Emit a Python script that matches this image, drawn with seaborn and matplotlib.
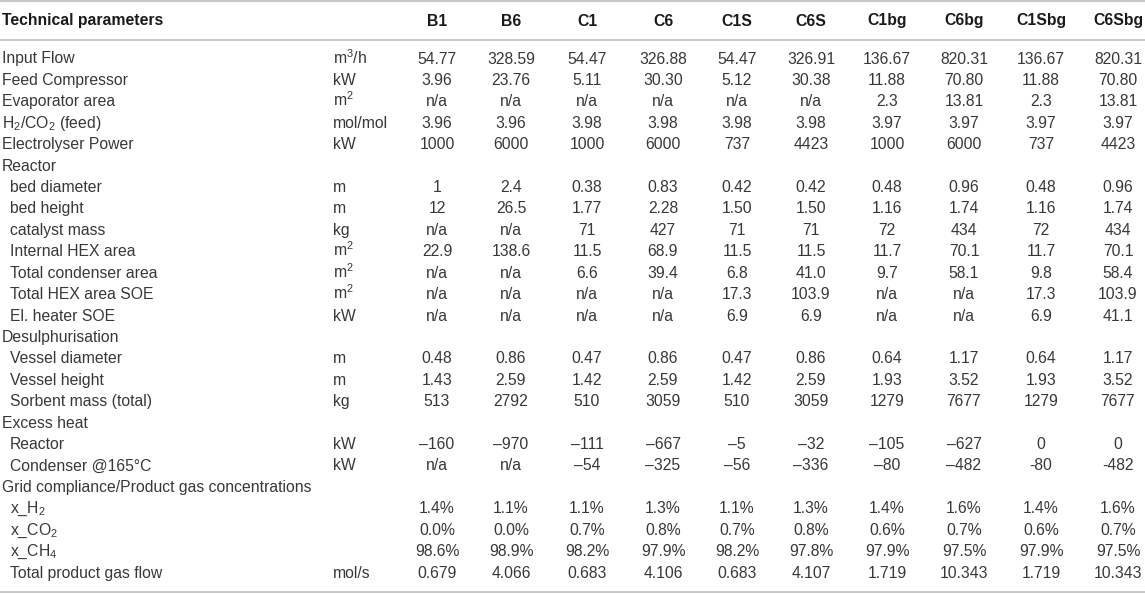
import matplotlib

matplotlib.use('Agg')
import matplotlib.pyplot as plt
import seaborn as sns
import pandas as pd

# --- Дані таблиці ---
columns = ['B1', 'B6', 'C1', 'C6', 'C1S', 'C6S', 'C1bg', 'C6bg', 'C1Sbg', 'C6Sbg']

row_names = [
    'Input Flow', 'Feed Compressor', 'Evaporator area', r'H$_2$/CO$_2$ (feed)',
    'Electrolyser Power', 'Reactor', 'bed diameter', 'bed height', 'catalyst mass',
    'Internal HEX area', 'Total condenser area', 'Total HEX area SOE', 'El. heater SOE',
    'Desulphurisation', 'Vessel diameter', 'Vessel height', 'Sorbent mass (total)',
    'Excess heat', 'Reactor', 'Condenser @165°C',
    'Grid compliance/Product gas concentrations',
    r'x_H$_2$', r'x_CO$_2$', r'x_CH$_4$', 'Total product gas flow',
]
row_indent = [0, 0, 0, 0, 0, 0, 1, 1, 1, 1, 1, 1, 1, 0, 1, 1, 1, 0, 1, 1, 0, 1, 1, 1, 1]
units = [
    r'm$^3$/h', 'kW', r'm$^2$', 'mol/mol', 'kW', '', 'm', 'm', 'kg',
    r'm$^2$', r'm$^2$', r'm$^2$', 'kW', '', 'm', 'm', 'kg', '', 'kW', 'kW', '',
    '', '', '', 'mol/s',
]

B1 = ['54.77', '3.96', 'n/a', '3.96', '1000', '', '1', '12', 'n/a', '22.9', 'n/a', 'n/a', 'n/a',
      '', '0.48', '1.43', '513', '', '–160', 'n/a', '', '1.4%', '0.0%', '98.6%', '0.679']
B6 = ['328.59', '23.76', 'n/a', '3.96', '6000', '', '2.4', '26.5', 'n/a', '138.6', 'n/a', 'n/a', 'n/a',
      '', '0.86', '2.59', '2792', '', '–970', 'n/a', '', '1.1%', '0.0%', '98.9%', '4.066']
C1 = ['54.47', '5.11', 'n/a', '3.98', '1000', '', '0.38', '1.77', '71', '11.5', '6.6', 'n/a', 'n/a',
      '', '0.47', '1.42', '510', '', '–111', '–54', '', '1.1%', '0.7%', '98.2%', '0.683']
C6 = ['326.88', '30.30', 'n/a', '3.98', '6000', '', '0.83', '2.28', '427', '68.9', '39.4', 'n/a', 'n/a',
      '', '0.86', '2.59', '3059', '', '–667', '–325', '', '1.3%', '0.8%', '97.9%', '4.106']
C1S = ['54.47', '5.12', 'n/a', '3.98', '737', '', '0.42', '1.50', '71', '11.5', '6.8', '17.3', '6.9',
       '', '0.47', '1.42', '510', '', '–5', '–56', '', '1.1%', '0.7%', '98.2%', '0.683']
C6S = ['326.91', '30.38', 'n/a', '3.98', '4423', '', '0.42', '1.50', '71', '11.5', '41.0', '103.9', '6.9',
       '', '0.86', '2.59', '3059', '', '–32', '–336', '', '1.3%', '0.8%', '97.8%', '4.107']
C1bg = ['136.67', '11.88', '2.3', '3.97', '1000', '', '0.48', '1.16', '72', '11.7', '9.7', 'n/a', 'n/a',
        '', '0.64', '1.93', '1279', '', '–105', '–80', '', '1.4%', '0.6%', '97.9%', '1.719']
C6bg = ['820.31', '70.80', '13.81', '3.97', '6000', '', '0.96', '1.74', '434', '70.1', '58.1', 'n/a', 'n/a',
        '', '1.17', '3.52', '7677', '', '–627', '–482', '', '1.6%', '0.7%', '97.5%', '10.343']
C1Sbg = ['136.67', '11.88', '2.3', '3.97', '737', '', '0.48', '1.16', '72', '11.7', '9.8', '17.3', '6.9',
         '', '0.64', '1.93', '1279', '', '0', '-80', '', '1.4%', '0.6%', '97.9%', '1.719']
C6Sbg = ['820.31', '70.80', '13.81', '3.97', '4423', '', '0.96', '1.74', '434', '70.1', '58.4', '103.9', '41.1',
         '', '1.17', '3.52', '7677', '', '0', '-482', '', '1.6%', '0.7%', '97.5%', '10.343']

df = pd.DataFrame({'B1': B1, 'B6': B6, 'C1': C1, 'C6': C6, 'C1S': C1S, 'C6S': C6S,
                   'C1bg': C1bg, 'C6bg': C6bg, 'C1Sbg': C1Sbg, 'C6Sbg': C6Sbg})

# Налаштування стилю
sns.set_theme(style="white")
plt.rcParams['font.family'] = ['Liberation Sans', 'DejaVu Sans']
plt.rcParams['mathtext.fontset'] = 'custom'
plt.rcParams['mathtext.rm'] = 'Liberation Sans'
plt.rcParams['mathtext.it'] = 'Liberation Sans'
plt.rcParams['mathtext.bf'] = 'Liberation Sans:bold'

W, H = 1145, 594
fig = plt.figure(figsize=(W / 100, H / 100), dpi=100)
ax = fig.add_axes([0, 0, 1, 1])
ax.set_xlim(0, W)
ax.set_ylim(H, 0)
ax.axis('off')

col_x = [437, 511, 587, 663, 737, 811, 887, 964, 1041, 1118]
unit_x = 333
header_base = 25.5
row0_base = 63.5
row_step = 21.42
txt_color = '#383838'
head_color = '#1a1a1a'
line_color = '#c9c9c9'
fs = 11.3

# лінії таблиці
for yy in (1, 39.5, 592):
    ax.axhline(yy, color=line_color, lw=1.6)

# шапка
ax.text(2, header_base, 'Technical parameters', fontsize=fs, fontweight='bold',
        color=head_color, va='baseline', ha='left')
for x, name in zip(col_x, columns):
    ax.text(x, header_base, name, fontsize=fs, fontweight='bold', color=head_color,
            va='baseline', ha='center')

# рядки
for i, (name, ind, unit) in enumerate(zip(row_names, row_indent, units)):
    y = row0_base + i * row_step
    ax.text(2 + ind * 8, y, name, fontsize=fs, color=txt_color, va='baseline', ha='left')
    if unit:
        ax.text(unit_x, y, unit, fontsize=fs, color=txt_color, va='baseline', ha='left')
    for x, col in zip(col_x, columns):
        val = df[col].iloc[i]
        if val:
            ax.text(x, y, val, fontsize=fs, color=txt_color, va='baseline', ha='center')

fig.savefig('out.png', dpi=100)
plt.close(fig)
